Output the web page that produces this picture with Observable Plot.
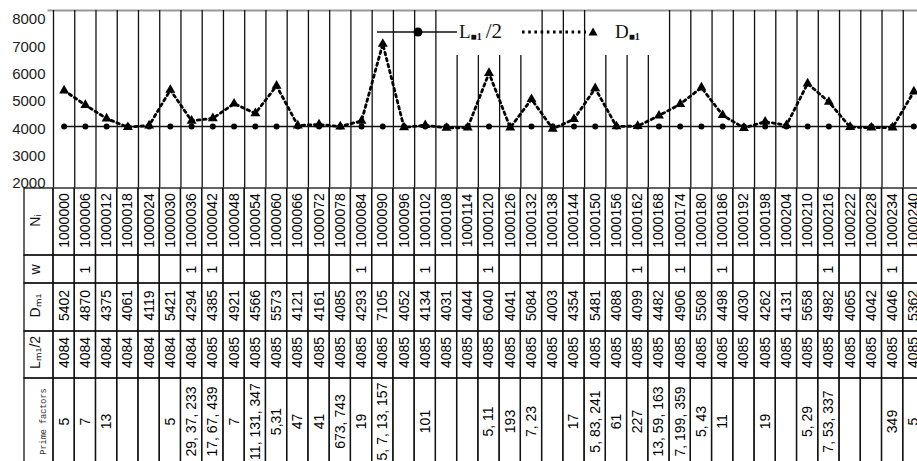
<!DOCTYPE html>
<html><head><meta charset="utf-8">
<script src="https://cdn.jsdelivr.net/npm/d3@7"></script>
<script src="https://cdn.jsdelivr.net/npm/@observablehq/plot@0.6"></script>
<style>
html,body{margin:0;padding:0;background:#fff;overflow:hidden;width:917px;height:461px;}
#wrap{position:relative;width:917px;height:461px;overflow:hidden;}
#wrap > svg{display:block;}
#legend{position:absolute;left:0;top:0;pointer-events:none;}
</style></head><body><div id="wrap"></div>
<script>
// ---- data ----
const nValues = [1000000, 1000006, 1000012, 1000018, 1000024, 1000030, 1000036, 1000042, 1000048, 1000054,
  1000060, 1000066, 1000072, 1000078, 1000084, 1000090, 1000096, 1000102, 1000108, 1000114,
  1000120, 1000126, 1000132, 1000138, 1000144, 1000150, 1000156, 1000162, 1000168, 1000174,
  1000180, 1000186, 1000192, 1000198, 1000204, 1000210, 1000216, 1000222, 1000228, 1000234, 1000240];
const wValues = [null, 1, null, null, null, null, 1, 1, null, null,
  null, null, null, null, 1, null, null, 1, null, null,
  1, null, null, null, null, null, null, 1, null, 1,
  null, 1, null, null, null, null, 1, null, null, 1, null];
const dValues = [5402, 4870, 4375, 4061, 4119, 5421, 4294, 4385, 4921, 4566,
  5573, 4121, 4161, 4085, 4293, 7105, 4052, 4134, 4031, 4044,
  6040, 4041, 5084, 4003, 4354, 5481, 4088, 4099, 4482, 4906,
  5508, 4498, 4030, 4262, 4131, 5658, 4982, 4065, 4042, 4046, 5362];
const lHalfValues = [4084, 4084, 4084, 4084, 4084, 4084, 4084, 4085, 4085, 4085,
  4085, 4085, 4085, 4085, 4085, 4085, 4085, 4085, 4085, 4085,
  4085, 4085, 4085, 4085, 4085, 4085, 4085, 4085, 4085, 4085,
  4085, 4085, 4085, 4085, 4085, 4085, 4085, 4085, 4085, 4085, 4085];
const primeFactors = ["5", "7", "13", "", "", "5", "29, 37, 233", "17, 67, 439", "7", "11, 131, 347",
  "5,31", "47", "41", "673, 743", "19", "5, 7, 13, 157", "", "101", "", "",
  "5, 11", "193", "7, 23", "", "17", "5, 83, 241", "61", "227", "13, 59, 163", "7, 199, 359",
  "5, 43", "11", "", "19", "", "5, 29", "7, 53, 337", "", "", "349", "5"];
const yTicks = [2000, 3000, 4000, 5000, 6000, 7000, 8000];
const rowLabels = ["Nᵢ", "w", "Dₘ₁", "Lₘ₁/2", "Prime factors"];
// gridline boundaries interrupted by the legend box
const legendGapBoundaries = [19, 20, 21, 22, 26, 27, 28];

// ---- layout ----
const W = 917;
const nCols = nValues.length;
const xScale = {type: "linear", domain: [0, nCols], range: [53, 924], axis: null};
const labelColStart = -1.365;
const rowTop = [0, 67, 95, 143, 190];
const rowBottom = [67, 95, 143, 190, 300];
const rowMid = [32, 81, 117, 164, 233];
const ink = "#111";

const idx = d3.range(nCols);
const series = idx.map(i => ({i, N: nValues[i], D: dValues[i], L: lHalfValues[i]}));
const boundaries = d3.range(nCols + 1);

const chart = Plot.plot({
  width: W, height: 187,
  marginTop: 10, marginBottom: 0, marginLeft: 53, marginRight: 0,
  x: xScale,
  y: {domain: [2000, 8000], range: [183, 19], axis: null},
  style: {background: "white", fontFamily: "Liberation Sans, Arial, sans-serif", overflow: "visible"},
  marks: [
    Plot.frame({anchor: "top", stroke: "#999", strokeWidth: 2, insetLeft: -5}),
    Plot.ruleX(boundaries.filter(b => !legendGapBoundaries.includes(b)), {stroke: ink, strokeWidth: 1.3}),
    Plot.ruleX(legendGapBoundaries, {y1: 6680, y2: 1850, stroke: ink, strokeWidth: 1.3}),
    Plot.axisY(yTicks, {anchor: "left", tickSize: 0, tickPadding: 8, fontSize: 15, tickFormat: d => String(d), fill: "#222", style: {letterSpacing: "1px"}}),
    Plot.line(series, {x: d => d.i + 0.5, y: "L", stroke: ink, strokeWidth: 1.5}),
    Plot.dot(series, {x: d => d.i + 0.5, y: "L", r: 3, fill: "#000"}),
    Plot.line(series, {x: d => d.i + 0.5, y: "D", stroke: "#000", strokeWidth: 2.8, strokeDasharray: "2.6,3.6"}),
    Plot.dot(series, {x: d => d.i + 0.5, y: "D", symbol: "triangle", r: 3.7, fill: "#000"})
  ]
});

// ---- table ----
const rowTexts = [
  nValues.map(String),
  wValues.map(v => v == null ? "" : String(v)),
  dValues.map(String),
  lHalfValues.map(String),
  primeFactors
];
const cells = [];
rowTexts.forEach((arr, r) => arr.forEach((t, i) => cells.push({r, i, t})));
const labelCells = rowLabels.map((t, r) => ({r, t}));
const tableFont = "'Liberation Sans', Arial, sans-serif";

const table = Plot.plot({
  width: W, height: 274,
  marginTop: 0, marginBottom: 0, marginLeft: 0, marginRight: 0,
  x: xScale,
  y: {type: "linear", domain: [0, 274], range: [1, 275], axis: null},
  style: {background: "white", overflow: "visible"},
  marks: [
    Plot.rect(cells, {x1: d => d.i, x2: d => d.i + 1, y1: d => rowTop[d.r], y2: d => rowBottom[d.r], fill: "none", stroke: ink, strokeWidth: 1.3}),
    Plot.rect(labelCells, {x1: labelColStart, x2: 0, y1: d => rowTop[d.r], y2: d => rowBottom[d.r], fill: "none", stroke: ink, strokeWidth: 1.3}),
    Plot.text(cells.filter(d => d.t !== ""), {x: d => d.i + 0.5, y: d => rowMid[d.r], text: "t", rotate: -90, fontSize: 14, fill: "#000", fontFamily: tableFont, style: {letterSpacing: "-0.6px"}}),
    Plot.text(labelCells.filter(d => d.r < 4), {x: labelColStart / 2, y: d => rowMid[d.r], text: "t", rotate: -90, fontSize: 14, dx: -3, fill: "#111", fontFamily: tableFont}),
    Plot.text(labelCells.filter(d => d.r === 4), {x: labelColStart / 2, y: d => rowMid[d.r], text: "t", rotate: -90, fontSize: 8.5, dx: 4, fill: "#333", fontFamily: "'Liberation Mono', monospace"})
  ]
});

const wrap = document.getElementById("wrap");
wrap.appendChild(chart);
wrap.appendChild(table);

// ---- legend (overlay) ----
const ns = "http://www.w3.org/2000/svg";
const leg = document.createElementNS(ns, "svg");
leg.setAttribute("id", "legend");
leg.setAttribute("width", W);
leg.setAttribute("height", 60);
leg.innerHTML = `
  <line x1="377" y1="32" x2="457" y2="32" stroke="#111" stroke-width="1.3"/>
  <circle cx="418" cy="32" r="4.5" fill="#000"/>
  <text x="459" y="38" font-family="Liberation Serif, serif" font-size="19" fill="#111">L<tspan font-size="10" font-weight="bold" dy="2">■1</tspan><tspan font-size="21" dy="-2" dx="4">/2</tspan></text>
  <line x1="522" y1="32" x2="586" y2="32" stroke="#000" stroke-width="2.8" stroke-dasharray="2.6,3.6"/>
  <path d="M593,27.5 L597.5,35.5 L588.5,35.5 Z" fill="#000"/>
  <text x="615" y="38" font-family="Liberation Serif, serif" font-size="19" fill="#111">D<tspan font-size="10" font-weight="bold" dy="2">■1</tspan></text>`;
wrap.appendChild(leg);
</script></body></html>
